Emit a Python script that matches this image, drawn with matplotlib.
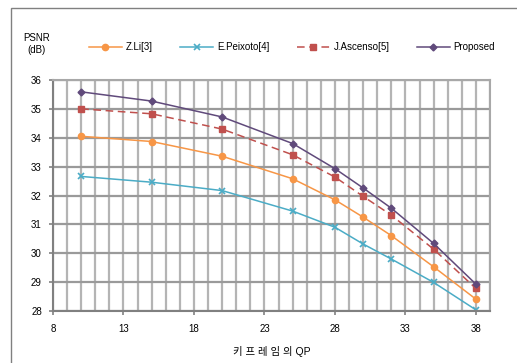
import numpy as np
import matplotlib.pyplot as plt
from matplotlib.patches import Rectangle
from matplotlib.ticker import MultipleLocator

plt.rcParams['font.family'] = ['Liberation Sans', 'Noto Sans CJK KR', 'DejaVu Sans']

# 데이터
qp = [10, 15, 20, 25, 28, 30, 32, 35, 38]
zli = [34.05, 33.87, 33.36, 32.58, 31.85, 31.25, 30.61, 29.53, 28.41]
peixoto = [32.66, 32.46, 32.17, 31.46, 30.90, 30.32, 29.80, 28.99, 28.04]
ascenso = [35.00, 34.83, 34.30, 33.41, 32.64, 31.97, 31.32, 30.14, 28.78]
proposed = [35.59, 35.27, 34.72, 33.80, 32.93, 32.26, 31.56, 30.34, 28.93]
labels = ['Z.Li[3]', 'E.Peixoto[4]', 'J.Ascenso[5]', 'Proposed']
xticks = [8, 13, 18, 23, 28, 33, 38]

fig = plt.figure(figsize=(5.17, 3.63), dpi=100)
fig.patches.append(Rectangle((11 / 517, -0.1), 1.2, 1 - 8 / 363 + 0.1,
                             transform=fig.transFigure, fill=False,
                             edgecolor='#808080', lw=1))

ax = fig.add_axes([53 / 517, 52 / 363, 437 / 517, 231 / 363])

ax.plot(qp, zli, color='#F79646', lw=1.1, marker='o', ms=4.5, label=labels[0])
ax.plot(qp, peixoto, color='#4BACC6', lw=1.1, marker='x', ms=4, mew=1.2, label=labels[1])
ax.plot(qp, ascenso, color='#C0504D', lw=1.1, ls=(0, (5, 3)), marker='s', ms=4.5, label=labels[2])
ax.plot(qp, proposed, color='#604A7B', lw=1.1, marker='D', ms=3.5, label=labels[3])

ax.set_xlim(8, 39)
ax.set_ylim(28, 36)
ax.set_xticks(xticks)
ax.xaxis.set_minor_locator(MultipleLocator(1))
ax.yaxis.set_major_locator(MultipleLocator(1))
ax.grid(True, which='both', axis='x', color='#b4b4b4', lw=1.6)
ax.grid(True, which='major', axis='y', color='#9a9a9a', lw=1.6)
ax.set_axisbelow(True)
for s in ax.spines.values():
    s.set_color('#a8a8a8')
    s.set_linewidth(1.5)
ax.spines['left'].set_color('#808080')
ax.spines['bottom'].set_color('#808080')
ax.tick_params(which='minor', length=0)
ax.tick_params(which='major', length=3, width=1.2, color='#808080', labelsize=7, pad=6)
ax.tick_params(axis='y', pad=5)

ax.set_xlabel('키 프 레 임 의 QP', fontsize=7.5, labelpad=9)

fig.text(37 / 517, 1 - 38 / 363, 'PSNR', ha='center', va='center', fontsize=7)
fig.text(37 / 517, 1 - 50 / 363, '(dB)', ha='center', va='center', fontsize=7)

fig.legend(loc='center', bbox_to_anchor=(292 / 517, 1 - 47 / 363), ncol=4,
           frameon=False, fontsize=7, handlelength=3.4, columnspacing=2.8,
           handletextpad=0.4, borderaxespad=0)

fig.savefig('out.png', dpi=100)
